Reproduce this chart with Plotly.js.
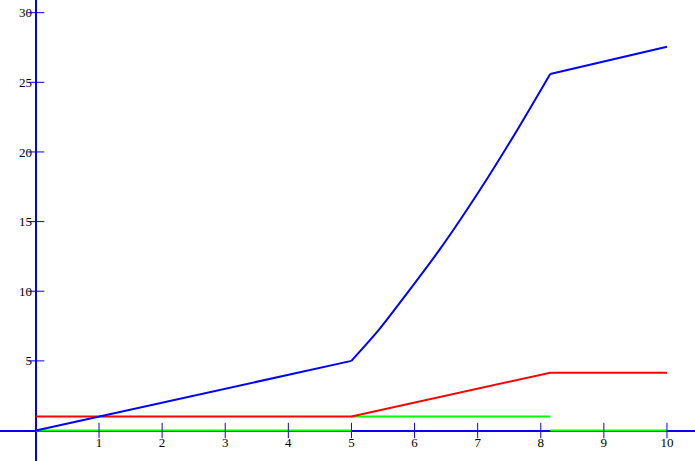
<!DOCTYPE html>
<html>
<head>
<meta charset="utf-8">
<script src="https://cdn.plot.ly/plotly-3.0.1.min.js"></script>
<style>html,body{margin:0;padding:0;background:#fff;}#chart{width:695px;height:461px;}</style>
</head>
<body>
<div id="chart"></div>
<script>
// Data
const blueLineX = [0, 5, null, 8.15, 10];
const blueLineY = [0, 5, null, 25.6, 27.55];
const blueCurveX = [5, 5.43, 6.40, 7.04, 7.63, 8.15];
const blueCurveY = [5, 7.2, 13.0, 17.3, 21.6, 25.6];
const redX = [0, 5, 8.15, 10];
const redY = [1, 1, 4.15, 4.15];
const greenX = [0, 5, null, 5, 8.15, null, 8.15, 10];
const greenY = [0, 0, null, 1, 1, null, 0, 0];
const xTicks = [1, 2, 3, 4, 5, 6, 7, 8, 9, 10];
const yTicks = [5, 10, 15, 20, 25, 30];

const W = 695, H = 461;
const xRange = [-0.569, 10.444];
const yRange = [-2.19, 30.91];
const axisBlue = '#0000ff';
const tickFont = {family: '"Liberation Serif", "Times New Roman", serif', size: 13, color: '#000'};

const traces = [
  {x: greenX, y: greenY, mode: 'lines', line: {color: '#00ff00', width: 2}, connectgaps: false, hoverinfo: 'skip'},
  {x: redX, y: redY, mode: 'lines', line: {color: '#ff0000', width: 2}, hoverinfo: 'skip'},
  {x: blueLineX, y: blueLineY, mode: 'lines', line: {color: '#0000ff', width: 2}, connectgaps: false, hoverinfo: 'skip'},
  {x: blueCurveX, y: blueCurveY, mode: 'lines', line: {color: '#0000ff', width: 2, shape: 'spline', smoothing: 0.6}, hoverinfo: 'skip'},
  {x: xTicks, y: xTicks.map(() => 0), mode: 'markers',
   marker: {symbol: 'line-ns', size: 11, line: {color: axisBlue, width: 1}}, hoverinfo: 'skip'},
  {x: yTicks.map(() => 0), y: yTicks, mode: 'markers',
   marker: {symbol: 'line-ew', size: 12, line: {color: axisBlue, width: 1}}, hoverinfo: 'skip'}
];

const x0frac = (0 - xRange[0]) / (xRange[1] - xRange[0]);
const y0frac = (0 - yRange[0]) / (yRange[1] - yRange[0]);

const layout = {
  width: W, height: H,
  margin: {l: 0, r: 0, t: 0, b: 0, pad: 0},
  paper_bgcolor: '#fff', plot_bgcolor: '#fff',
  showlegend: false,
  xaxis: {
    range: xRange, showgrid: false, zeroline: true, zerolinecolor: axisBlue, zerolinewidth: 2,
    showline: false, ticks: '', tickvals: xTicks, ticktext: xTicks.map(String),
    tickfont: tickFont, anchor: 'free', position: y0frac, ticklabelstandoff: 3, fixedrange: true
  },
  yaxis: {
    range: yRange, showgrid: false, zeroline: true, zerolinecolor: axisBlue, zerolinewidth: 2,
    showline: false, ticks: '', tickvals: yTicks, ticktext: yTicks.map(String),
    tickfont: tickFont, anchor: 'free', position: x0frac, ticklabelstandoff: 4, fixedrange: true
  }
};

Plotly.newPlot('chart', traces, layout, {staticPlot: true, displayModeBar: false});
</script>
</body>
</html>
